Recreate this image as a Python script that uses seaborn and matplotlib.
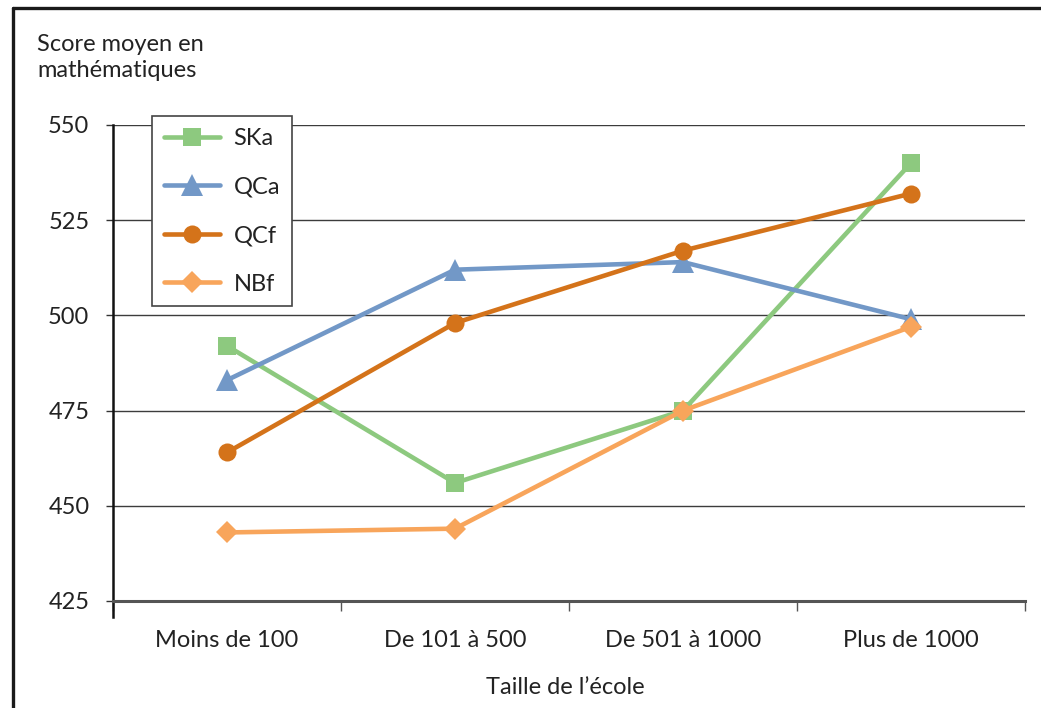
import matplotlib
matplotlib.use("Agg")
import matplotlib.pyplot as plt
from matplotlib.lines import Line2D
from matplotlib.ticker import FixedLocator, NullFormatter
import seaborn as sns

# School size categories and mean mathematics scores per population
tailles = ["Moins de 100", "De 101 à 500", "De 501 à 1000", "Plus de 1000"]
ska = [492, 456, 475, 540]
qca = [483, 512, 514, 499]
qcf = [464, 498, 517, 532]
nbf = [443, 444, 475, 497]
series_names = ["SKa", "QCa", "QCf", "NBf"]
y_ticks = [425, 450, 475, 500, 525, 550]

sns.set_theme(style="white")
plt.rcParams["font.family"] = ["Lato", "DejaVu Sans"]
plt.rcParams["text.color"] = "#222222"

FS = 17

W, H = 1041, 708
fig = plt.figure(figsize=(W / 100, H / 100), dpi=100)
ax = fig.add_axes([113 / W, 1 - 601 / H, 912 / W, 476 / H])

styles = {
    "SKa": dict(color="#8DC97F", marker="s", markersize=13.5),
    "QCa": dict(color="#7298C7", marker="^", markersize=16),
    "QCf": dict(color="#D4731A", marker="o", markersize=13),
    "NBf": dict(color="#F8A55B", marker="D", markersize=11.5),
}
values = {"SKa": ska, "QCa": qca, "QCf": qcf, "NBf": nbf}

for name in series_names:
    st = styles[name]
    sns.lineplot(x=tailles, y=values[name], ax=ax, sort=False,
                 color=st["color"], marker=st["marker"],
                 markersize=st["markersize"], markeredgewidth=0,
                 linewidth=3.3, label=name, zorder=3)

# Axis limits and ticks
ax.set_xlim(-0.5, len(tailles) - 0.5)
ax.set_ylim(y_ticks[0], y_ticks[-1])
ax.set_yticks(y_ticks)
ax.set_xticks(range(len(tailles)))
ax.set_xticklabels(tailles)
ax.xaxis.set_minor_locator(FixedLocator([i - 0.5 for i in range(len(tailles) + 1)]))
ax.xaxis.set_minor_formatter(NullFormatter())
ax.tick_params(axis="x", which="major", length=0, pad=21, labelsize=FS, labelcolor="#222222")
ax.tick_params(axis="x", which="minor", length=7, width=1.0, color="#555555", direction="out", bottom=True)
ax.tick_params(axis="y", which="major", length=5, width=1.0, color="#333333", direction="out",
               left=True, pad=12, labelsize=FS, labelcolor="#222222")

# Horizontal grid
ax.grid(axis="y", color="#3c3c3c", linewidth=1.0, zorder=0)
ax.grid(axis="x", visible=False)
ax.set_axisbelow(True)

for side in ("top", "right"):
    ax.spines[side].set_visible(False)
ax.spines["left"].set_color("#111111")
ax.spines["left"].set_linewidth(1.8)
ax.spines["left"].set_bounds(420.8, 550)
ax.spines["bottom"].set_color("#555555")
ax.spines["bottom"].set_linewidth(2.2)

ax.set_xlabel("")
ax.set_ylabel("")

# Axis titles
fig.text(37 / W, 1 - 34 / H, "Score moyen en\nmathématiques", ha="left", va="top",
         fontsize=FS, linespacing=1.32, color="#222222")
fig.text(565 / W, 1 - 688 / H, "Taille de l\u2019école", ha="center", va="center",
         fontsize=FS, color="#222222")

# Legend
handles = [Line2D([0], [0], color=styles[n]["color"], marker=styles[n]["marker"],
                  markersize=styles[n]["markersize"], markeredgewidth=0, linewidth=3.3,
                  solid_capstyle="round")
           for n in series_names]
leg = ax.legend(handles, series_names, loc="upper left",
                bbox_to_anchor=((152 - 113) / 912, (601 - 116) / 476),
                borderaxespad=0, frameon=True, fancybox=False, framealpha=1,
                edgecolor="#444444", fontsize=FS, handlelength=2.4,
                handletextpad=0.55, labelspacing=1.17, borderpad=0.5)
leg.get_frame().set_linewidth(1.2)
leg.set_zorder(5)

# Outer frame lines (top and left)
fig.add_artist(Line2D([13 / W, 1], [1 - 8 / H, 1 - 8 / H], color="#1a1a1a", linewidth=2.4,
                      transform=fig.transFigure))
fig.add_artist(Line2D([13 / W, 13 / W], [0, 1 - 8 / H], color="#1a1a1a", linewidth=2.4,
                      transform=fig.transFigure))

fig.savefig("out.png", dpi=100)
